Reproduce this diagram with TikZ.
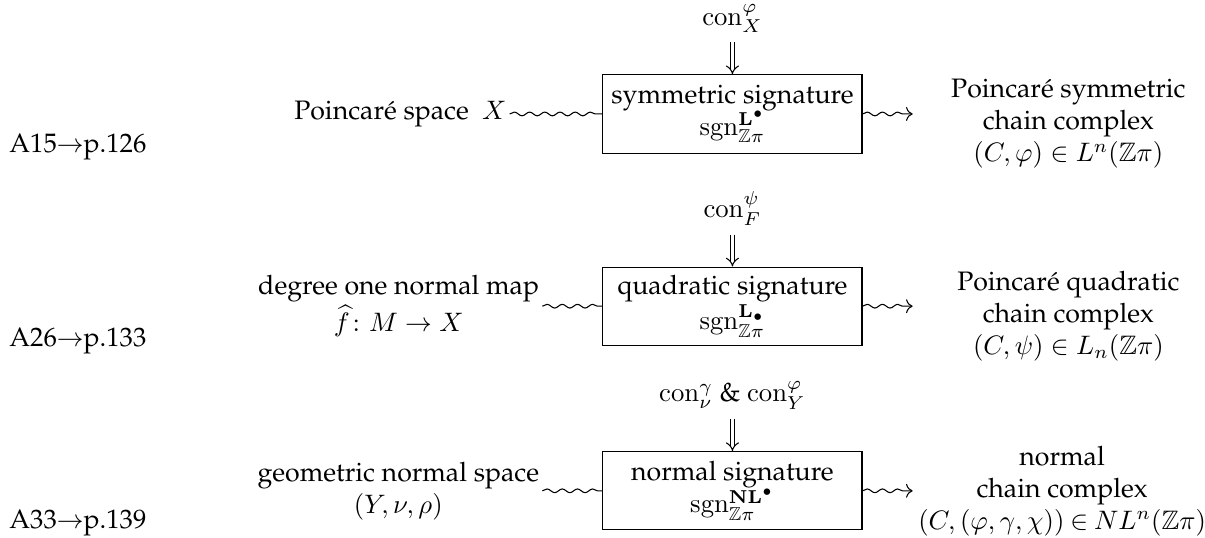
\documentclass[tikz,border=0pt]{standalone}
\usepackage[T1]{fontenc}
\renewcommand{\rmdefault}{ppl}
\usepackage{amsmath,amssymb}
\usetikzlibrary{arrows.meta,positioning,decorations.pathmorphing}

\begin{document}
\begin{tikzpicture}[node distance=0.42cm,
    sigbox/.style={draw,minimum width=3.41cm,minimum height=1.03cm,align=center,inner sep=2pt},
    res/.style={text width=3.85cm,align=flush center},
    wave/.style={decorate,decoration={snake,amplitude=0.7pt,segment length=2mm}},
    wavearrow/.style={-{Computer Modern Rightarrow},decorate,decoration={snake,amplitude=0.7pt,segment length=2mm,post length=1.3mm}},
    conarrow/.style={double,double distance=1.3pt,-{Implies}}]
  \useasboundingbox (0,0) rectangle (15.86,-7.08);

  \node[sigbox] (sym) at (9.64,-1.50) {symmetric signature\\ $\mathrm{sgn}^{\mathbf{L}^\bullet}_{\mathbb{Z}\pi}$};
  \node[sigbox] (quad) at (9.64,-4.03) {quadratic signature\\ $\mathrm{sgn}^{\mathbf{L}_\bullet}_{\mathbb{Z}\pi}$};
  \node[sigbox] (nor) at (9.64,-6.46) {normal signature\\ $\mathrm{sgn}^{\mathbf{NL}^\bullet}_{\mathbb{Z}\pi}$};

  \node[above=of sym] (consym) {$\mathrm{con}^{\varphi}_{X}$};
  \node[above=of quad] (conquad) {$\mathrm{con}^{\psi}_{F}$};
  \node[above=of nor] (connor) {$\mathrm{con}^{\gamma}_{\nu}$ \& $\mathrm{con}^{\varphi}_{Y}$};

  \node[inner xsep=1pt,left=1.22cm of sym] (psp) {Poincaré space\ \ $X$};
  \node[inner xsep=1pt,left=0.79cm of quad,align=center] (deg) {degree one normal map\\ $\widehat{f}\colon M\to X$};
  \node[inner xsep=1pt,left=0.79cm of nor,align=center] (geo) {geometric normal space\\ $(Y,\nu,\rho)$};

  \node[res,right=0.66cm of sym,yshift=-0.13cm] (psym) {Poincaré symmetric\\ chain complex\\ $(C,\varphi)\in L^n(\mathbb{Z}\pi)$};
  \node[res,right=0.66cm of quad,yshift=-0.13cm] (pquad) {Poincaré quadratic\\ chain complex\\ $(C,\psi)\in L_n(\mathbb{Z}\pi)$};
  \node[res,inner xsep=1pt,right=0.66cm of nor] (pnor) {normal\\ chain complex\\ $\thickmuskip=4mu (C,(\varphi,\gamma,\chi))\in NL^n(\mathbb{Z}\pi)$};

  \node[anchor=west] (a15) at (0,-1.94) {A15$\to$p.126};
  \node[anchor=west] (a26) at (0,-4.49) {A26$\to$p.133};
  \node[anchor=west] (a33) at (0,-6.89) {A33$\to$p.139};

  \draw[conarrow] (consym) -- (sym);
  \draw[conarrow] (conquad) -- (quad);
  \draw[conarrow] (connor) -- (nor);

  \draw[wave] (psp.east) -- (psp.east -| sym.west);
  \draw[wave] (deg.east) -- (deg.east -| quad.west);
  \draw[wave] (geo.east) -- (geo.east -| nor.west);

  \draw[wavearrow] (sym.east) -- (sym.east -| psym.west);
  \draw[wavearrow] (quad.east) -- (quad.east -| pquad.west);
  \draw[wavearrow] (nor.east) -- (nor.east -| pnor.west);
\end{tikzpicture}
\end{document}
